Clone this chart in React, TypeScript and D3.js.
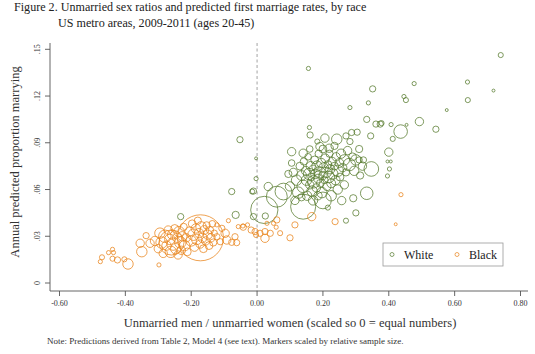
import * as d3 from 'd3';

// [sex ratio, predicted rate, relative sample size]
const whitePoints: [number, number, number][] = [
  [0.156, 0.1377, 4], [0.351, 0.1246, 9], [0.338, 0.1156, 4], [0.282, 0.1126, 4],
  [0.333, 0.105, 9], [0.361, 0.102, 9], [0.374, 0.102, 9], [0.407, 0.1017, 4],
  [0.159, 0.0998, 4], [0.74, 0.1463, 6], [0.639, 0.129, 4], [0.718, 0.1235, 2],
  [0.64, 0.1174, 6], [0.477, 0.128, 4], [0.446, 0.1197, 4], [0.452, 0.1174, 6],
  [0.576, 0.111, 2], [0.493, 0.1036, 16], [0.543, 0.0987, 9], [0.436, 0.0972, 42],
  [0.454, 0.1015, 2], [0.412, 0.0925, 6], [0.378, 0.1026, 6], [0.4, 0.084, 16],
  [0.396, 0.078, 2], [0.406, 0.078, 2], [0.402, 0.0732, 4], [0.396, 0.0687, 4],
  [0.347, 0.0732, 49], [0.333, 0.0576, 36], [0.323, 0.079, 9],
  [0.161, 0.095, 9], [0.183, 0.0908, 6], [0.206, 0.093, 16], [0.242, 0.0923, 25],
  [0.27, 0.0944, 9], [0.287, 0.0966, 9], [0.304, 0.0968, 9], [0.345, 0.0944, 9],
  [0.282, 0.0908, 9], [0.105, 0.0843, 16], [0.14, 0.0833, 16], [0.191, 0.0876, 16],
  [0.219, 0.0865, 16], [0.313, 0.069, 12], [0.31, 0.079, 9], [0.292, 0.0544, 12],
  [0.257, 0.0529, 16], [0.215, 0.0484, 6], [0.022, 0.0469, 170], [0.06, 0.0554, 100],
  [0.08, 0.0587, 64], [0.14, 0.049, 144], [0.2, 0.053, 64], [0.034, 0.0619, 16],
  [-0.011, 0.059, 9], [-0.003, 0.08, 2], [-0.003, 0.067, 4], [-0.011, 0.0426, 9],
  [0.025, 0.043, 9], [-0.052, 0.092, 9], [-0.232, 0.0426, 9], [-0.065, 0.0437, 12],
  [-0.077, 0.0587, 9], [-0.015, 0.0587, 6], [0.3, 0.045, 9], [0.27, 0.04, 6],
  [0.10, 0.062, 20], [0.11, 0.071, 16], [0.12, 0.066, 25], [0.125, 0.058, 30],
  [0.13, 0.075, 14], [0.135, 0.069, 22], [0.14, 0.062, 36], [0.142, 0.078, 12],
  [0.148, 0.072, 18], [0.15, 0.066, 25], [0.152, 0.056, 20], [0.155, 0.081, 10],
  [0.158, 0.07, 30], [0.16, 0.063, 16], [0.163, 0.075, 20], [0.165, 0.068, 12],
  [0.167, 0.059, 25], [0.17, 0.073, 16], [0.172, 0.065, 36], [0.175, 0.079, 14],
  [0.177, 0.07, 20], [0.18, 0.061, 16], [0.182, 0.075, 25], [0.185, 0.067, 18],
  [0.187, 0.083, 12], [0.19, 0.071, 30], [0.192, 0.064, 14], [0.195, 0.077, 20],
  [0.197, 0.058, 25], [0.2, 0.069, 16], [0.202, 0.074, 22], [0.205, 0.066, 12],
  [0.207, 0.08, 18], [0.21, 0.071, 25], [0.212, 0.062, 16], [0.215, 0.076, 14],
  [0.218, 0.068, 30], [0.22, 0.083, 12], [0.222, 0.073, 20], [0.225, 0.064, 18],
  [0.228, 0.078, 16], [0.23, 0.07, 25], [0.235, 0.075, 14], [0.238, 0.066, 20],
  [0.24, 0.081, 16], [0.245, 0.072, 30], [0.25, 0.077, 18], [0.252, 0.068, 14],
  [0.255, 0.083, 20], [0.26, 0.074, 16], [0.265, 0.079, 25], [0.27, 0.071, 12],
  [0.275, 0.085, 16], [0.28, 0.076, 36], [0.29, 0.081, 14], [0.295, 0.072, 20],
  [0.3, 0.079, 25], [0.115, 0.053, 16], [0.135, 0.055, 12], [0.17, 0.053, 20],
  [0.185, 0.056, 16], [0.16, 0.086, 10], [0.2, 0.086, 14], [0.235, 0.088, 12],
  [0.245, 0.06, 20], [0.265, 0.063, 16], [0.225, 0.056, 25], [0.095, 0.07, 12],
  [0.105, 0.077, 10], [0.32, 0.075, 16], [0.31, 0.086, 12],
];

const blackPoints: [number, number, number][] = [
  [-0.476, 0.0137, 4], [-0.471, 0.0165, 6], [-0.451, 0.0195, 4], [-0.439, 0.0216, 4],
  [-0.436, 0.0195, 4], [-0.439, 0.0156, 6], [-0.424, 0.0148, 9], [-0.403, 0.0152, 6],
  [-0.392, 0.0122, 25], [-0.355, 0.0255, 16], [-0.337, 0.0304, 9], [-0.35, 0.0201, 25],
  [-0.325, 0.0255, 16], [-0.298, 0.0116, 4],
  [-0.31, 0.027, 20], [-0.3, 0.022, 16], [-0.295, 0.032, 25], [-0.29, 0.026, 30],
  [-0.285, 0.019, 16], [-0.28, 0.03, 36], [-0.275, 0.024, 20], [-0.27, 0.034, 16],
  [-0.265, 0.028, 25], [-0.262, 0.02, 30], [-0.258, 0.031, 20], [-0.255, 0.025, 36],
  [-0.25, 0.035, 14], [-0.247, 0.022, 25], [-0.243, 0.029, 20], [-0.24, 0.018, 16],
  [-0.237, 0.033, 25], [-0.233, 0.026, 30], [-0.23, 0.021, 16], [-0.227, 0.03, 20],
  [-0.223, 0.036, 12], [-0.22, 0.024, 25], [-0.215, 0.029, 16], [-0.212, 0.02, 14],
  [-0.26, 0.026, 144],
  [-0.205, 0.033, 20], [-0.2, 0.027, 25], [-0.197, 0.038, 14], [-0.193, 0.031, 30],
  [-0.19, 0.023, 16], [-0.186, 0.035, 20], [-0.183, 0.028, 25], [-0.18, 0.04, 12],
  [-0.176, 0.032, 20], [-0.173, 0.025, 16], [-0.17, 0.036, 25], [-0.166, 0.029, 20],
  [-0.163, 0.022, 14], [-0.16, 0.034, 18], [-0.156, 0.027, 16], [-0.153, 0.037, 12],
  [-0.15, 0.031, 20], [-0.146, 0.024, 14], [-0.143, 0.034, 12], [-0.14, 0.029, 16],
  [-0.136, 0.038, 10], [-0.133, 0.026, 12], [-0.13, 0.032, 9], [-0.172, 0.029, 484],
  [-0.122, 0.0373, 4], [-0.107, 0.0351, 9], [-0.097, 0.0319, 16], [-0.092, 0.0276, 16],
  [-0.077, 0.0261, 9], [-0.067, 0.0297, 9], [-0.062, 0.0259, 9], [-0.087, 0.04, 4],
  [-0.057, 0.0362, 4], [-0.042, 0.0358, 9], [-0.029, 0.0373, 4], [-0.018, 0.034, 9],
  [-0.006, 0.033, 9], [-0.003, 0.0308, 6], [0.009, 0.0319, 9], [0.024, 0.033, 9],
  [0.024, 0.0287, 16], [0.04, 0.0319, 9], [0.05, 0.0383, 4], [0.058, 0.0358, 4],
  [0.03, 0.0383, 4], [0.06, 0.0405, 9], [0.115, 0.0373, 9], [0.166, 0.0426, 16],
  [0.237, 0.0394, 9], [-0.043, 0.0366, 4], [0.07, 0.032, 6], [0.1, 0.029, 9],
  [-0.122, 0.0297, 9], [-0.112, 0.0265, 9], [0.437, 0.0567, 4], [0.421, 0.0377, 2],
];

const xTicks = [-0.6, -0.4, -0.2, 0, 0.2, 0.4, 0.6, 0.8];
const yTicks = [0, 0.03, 0.06, 0.09, 0.12, 0.15];
const yTickLabels = ['0', '.03', '.06', '.09', '.12', '.15'];

const WHITE_COLOR = '#557a2c';
const BLACK_COLOR = '#e8831a';
const FONT = "'Liberation Serif', 'DejaVu Serif', serif";

export default function App() {
  const width = 535;
  const height = 354;

  const x = d3.scaleLinear().domain([-0.6, 0.8]).range([59.5, 520.5]);
  const y = d3.scaleLinear().domain([0, 0.15]).range([283, 49.3]);
  const r = d3.scaleSqrt().domain([0, 484]).range([0, 23]);

  const plotLeft = 50;
  const plotRight = 528;
  const plotTop = 43;
  const plotBottom = 291;

  return (
    <svg
      width={width}
      height={height}
      style={{ position: 'absolute', left: 0, top: 0, background: '#fff' }}
      fontFamily={FONT}
    >
      <text x={14} y={11} fontSize={12.1} fill="#222">
        Figure 2. Unmarried sex ratios and predicted first marriage rates, by race
      </text>
      <text x={58} y={26.5} fontSize={12.1} fill="#222">
        US metro areas, 2009-2011 (ages 20-45)
      </text>

      {/* zero reference line */}
      <line
        x1={x(0)}
        x2={x(0)}
        y1={plotTop}
        y2={plotBottom}
        stroke="#8a8a8a"
        strokeWidth={0.8}
        strokeDasharray="3,2.5"
      />

      {whitePoints.map(([sx, py, n], i) => (
        <circle
          key={`w${i}`}
          cx={x(sx)}
          cy={y(py)}
          r={r(n)}
          fill="none"
          stroke={WHITE_COLOR}
          strokeWidth={0.75}
        />
      ))}
      {blackPoints.map(([sx, py, n], i) => (
        <circle
          key={`b${i}`}
          cx={x(sx)}
          cy={y(py)}
          r={r(n)}
          fill="none"
          stroke={BLACK_COLOR}
          strokeWidth={0.75}
        />
      ))}

      {/* axes */}
      <line x1={plotLeft} x2={plotLeft} y1={plotTop} y2={plotBottom} stroke="#555" strokeWidth={0.9} />
      <line x1={plotLeft} x2={plotRight} y1={plotBottom} y2={plotBottom} stroke="#555" strokeWidth={0.9} />

      {yTicks.map((t, i) => (
        <g key={`yt${i}`} transform={`translate(${plotLeft},${y(t)})`}>
          <line x1={-5} x2={0} stroke="#555" strokeWidth={0.9} />
          <text
            transform="translate(-10,0) rotate(-90)"
            textAnchor="middle"
            fontSize={8}
            fill="#333"
          >
            {yTickLabels[i]}
          </text>
        </g>
      ))}
      {xTicks.map((t) => (
        <g key={`xt${t}`} transform={`translate(${x(t)},${plotBottom})`}>
          <line y1={0} y2={5} stroke="#555" strokeWidth={0.9} />
          <text y={15} textAnchor="middle" fontSize={8} fill="#333">
            {t.toFixed(2)}
          </text>
        </g>
      ))}

      <text
        transform="translate(19,162) rotate(-90)"
        textAnchor="middle"
        fontSize={12.5}
        fill="#333"
      >
        Annual predicted proportion marrying
      </text>
      <text x={290} y={327} textAnchor="middle" fontSize={12.5} fill="#333">
        Unmarried men / unmarried women (scaled so 0 = equal numbers)
      </text>
      <text x={47} y={344} fontSize={9} fill="#333">
        Note: Predictions derived from Table 2, Model 4 (see text). Markers scaled by relative sample size.
      </text>

      {/* legend */}
      <rect x={383} y={243} width={120} height={23} fill="#fff" stroke="#999" strokeWidth={0.8} />
      <circle cx={392} cy={254.5} r={2} fill="none" stroke={WHITE_COLOR} strokeWidth={0.7} />
      <text x={404} y={258.5} fontSize={12} fill="#222">White</text>
      <circle cx={457} cy={254.5} r={2} fill="none" stroke={BLACK_COLOR} strokeWidth={0.7} />
      <text x={469} y={258.5} fontSize={12} fill="#222">Black</text>
    </svg>
  );
}
